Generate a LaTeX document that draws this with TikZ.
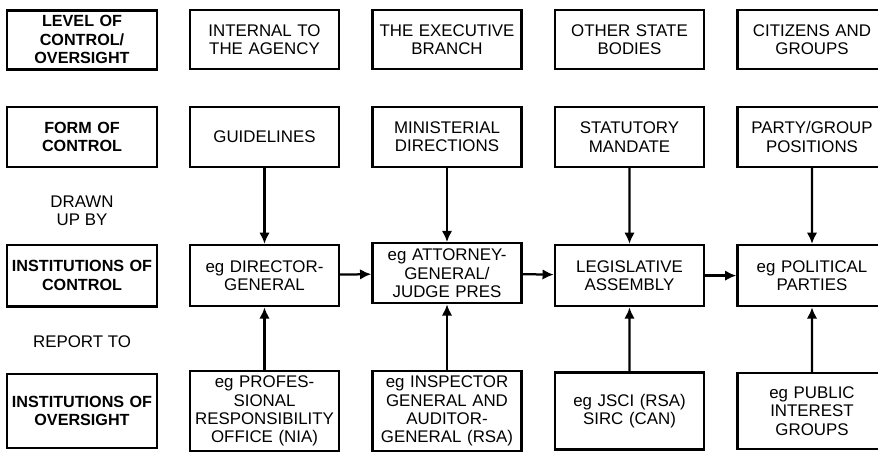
\documentclass[tikz,border=0pt]{standalone}
\usepackage{fontspec}
\setmainfont{Liberation Sans}
\usetikzlibrary{shapes.geometric, arrows, arrows.meta}
\tikzstyle{heading} = [
    rectangle,
    minimum width=3.75cm,
    text width=3.55cm,
    inner xsep=0.08cm,
    align=center,
    line width=2.1pt,
    font=\fontsize{11.5}{13.2}\selectfont\bfseries,
    draw=black
]
\tikzstyle{level} = [
    rectangle,
    minimum width=3.73cm,
    text width=3.55cm,
    inner xsep=0.08cm,
    align=center,
    line width=1.6pt,
    font=\fontsize{12}{13}\selectfont,
    draw=black
]
\tikzstyle{caption} = [
    align=center,
    font=\fontsize{12}{13}\selectfont
]
\tikzstyle{arrow} = [line width=1.6pt,-{Latex[length=8pt,width=7.5pt]}]

\begin{document}
\begin{tikzpicture}[node distance=4.5625cm]

\useasboundingbox (0,0) rectangle (21.95,-11.325);

% level of control / oversight
\node (lvlhead) [heading, minimum height=1.475cm] at (2.05,-0.99)
{LEVEL OF\\CONTROL/\\OVERSIGHT};
\node (lvlint) [level, minimum height=1.475cm, right of=lvlhead]
{INTERNAL TO\\THE AGENCY};
\node (lvlexec) [level, minimum height=1.475cm, right of=lvlint]
{THE EXECUTIVE\\BRANCH};
\node (lvlstate) [level, minimum height=1.475cm, right of=lvlexec]
{OTHER STATE\\BODIES};
\node (lvlcit) [level, minimum height=1.475cm, right of=lvlstate]
{CITIZENS AND\\GROUPS};

% form of control
\node (formhead) [heading, minimum height=1.5cm, below of=lvlhead, node distance=2.435cm]
{FORM OF\\CONTROL};
\node (formguide) [level, minimum height=1.5cm, right of=formhead]
{GUIDELINES};
\node (formmin) [level, minimum height=1.5cm, right of=formguide]
{MINISTERIAL\\DIRECTIONS};
\node (formstat) [level, minimum height=1.5cm, right of=formmin]
{STATUTORY\\MANDATE};
\node (formparty) [level, minimum height=1.5cm, right of=formstat]
{PARTY/GROUP\\POSITIONS};

\node (drawn) [caption, below of=formhead, node distance=1.85cm]
{DRAWN\\UP BY};

% institutions of control
\node (ctrlhead) [heading, minimum height=1.53cm, below of=formhead, node distance=3.465cm]
{INSTITUTIONS OF\\CONTROL};
\node (ctrldg) [level, minimum height=1.53cm, right of=ctrlhead]
{eg DIRECTOR-\\GENERAL};
\node (ctrlag) [level, minimum height=1.5cm, right of=ctrldg, yshift=0.06cm]
{eg ATTORNEY-\\GENERAL/\\JUDGE PRES};
\node (ctrlleg) [level, minimum height=1.53cm, right of=ctrldg, node distance=9.125cm]
{LEGISLATIVE\\ASSEMBLY};
\node (ctrlpol) [level, minimum height=1.53cm, right of=ctrlleg]
{eg POLITICAL\\PARTIES};

\node (report) [caption, below of=ctrlhead, node distance=1.66cm]
{REPORT TO};

% institutions of oversight
\node (ovhead) [heading, minimum height=1.85cm, below of=ctrlhead, node distance=3.385cm]
{INSTITUTIONS OF\\OVERSIGHT};
\node (ovpro) [level, minimum height=1.92cm, right of=ovhead]
{eg PROFES-\\SIONAL\\RESPONSIBILITY\\OFFICE (NIA)};
\node (ovig) [level, minimum height=1.95cm, right of=ovpro]
{eg INSPECTOR\\GENERAL AND\\AUDITOR-\\GENERAL (RSA)};
\node (ovjsci) [level, minimum height=1.92cm, right of=ovig]
{eg JSCI (RSA)\\SIRC (CAN)};
\node (ovpub) [level, minimum height=1.9cm, right of=ovjsci]
{eg PUBLIC\\INTEREST\\GROUPS};

\draw [arrow] (formguide) -- (ctrldg);
\draw [arrow] (formmin) -- (ctrlag);
\draw [arrow] (formstat) -- (ctrlleg);
\draw [arrow] (formparty) -- (ctrlpol);

\draw [arrow] (ctrldg) -- (ctrlag);
\draw [arrow] (ctrlag) -- (ctrlleg);
\draw [arrow] (ctrlleg) -- (ctrlpol);

\draw [arrow] (ovpro) -- (ctrldg);
\draw [arrow] (ovig) -- (ctrlag);
\draw [arrow] (ovjsci) -- (ctrlleg);
\draw [arrow] (ovpub) -- (ctrlpol);

\end{tikzpicture}
\end{document}
